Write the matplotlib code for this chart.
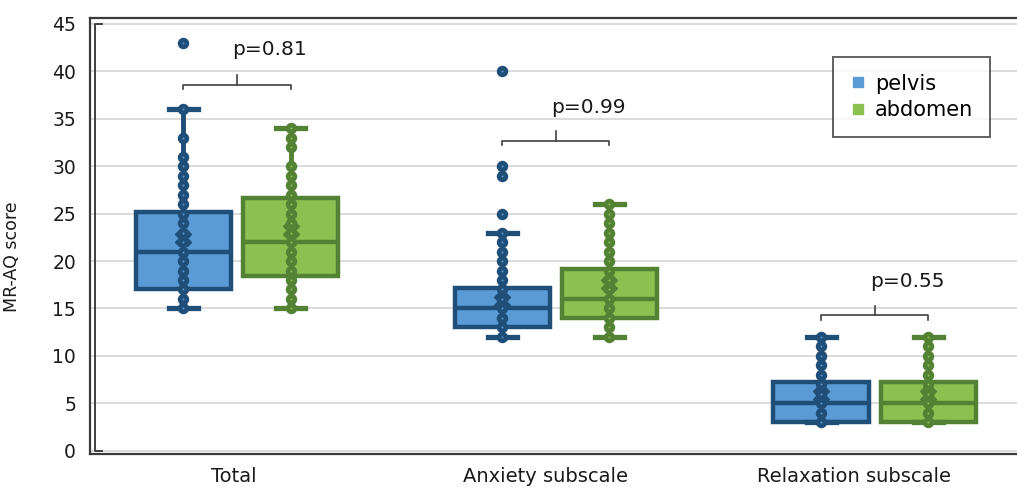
import matplotlib
matplotlib.use("Agg")
import matplotlib.pyplot as plt
import matplotlib.transforms as mtransforms
from matplotlib.lines import Line2D

# categorias
grupos = ["Total", "Anxiety subscale", "Relaxation subscale"]
series = ["pelvis", "abdomen"]

# pontos individuais (valores distintos) por grupo
pelvis_pts = [
    [15, 16, 17, 18, 19, 20, 21, 22, 23, 24, 25, 26, 27, 28, 29, 30, 31, 33, 36, 43],
    [12, 13, 14, 15, 16, 17, 18, 19, 20, 21, 22, 23, 25, 29, 30, 40],
    [3, 4, 5, 6, 7, 8, 9, 10, 11, 12],
]
abdomen_pts = [
    [15, 16, 17, 18, 19, 20, 21, 22, 23, 24, 25, 26, 27, 28, 29, 30, 32, 33, 34],
    [12, 13, 14, 15, 16, 17, 18, 19, 20, 21, 22, 23, 24, 25, 26],
    [3, 4, 5, 6, 7, 8, 9, 10, 11, 12],
]

# estatisticas das caixas
pelvis_q1 = [17.0, 13.0, 3.0]
pelvis_med = [21.0, 15.0, 5.0]
pelvis_q3 = [25.2, 17.2, 7.2]
pelvis_lo = [15, 12, 3]
pelvis_hi = [36, 23, 12]
pelvis_mean = [22.4, 15.8, 5.9]

abdomen_q1 = [18.4, 14.0, 3.0]
abdomen_med = [22.0, 16.0, 5.0]
abdomen_q3 = [26.7, 19.2, 7.2]
abdomen_lo = [15, 12, 3]
abdomen_hi = [34, 26, 12]
abdomen_mean = [23.3, 17.6, 5.9]

# valores p
p_valores = ["p=0.81", "p=0.99", "p=0.55"]
chave_y = [38.6, 32.7, 14.3]
texto_y = [42.3, 36.2, 17.8]

cores = {
    "pelvis": ("#5b9bd5", "#1f4e79"),
    "abdomen": ("#8cc152", "#548235"),
}

fig = plt.figure(figsize=(10.17, 4.92), dpi=100)
ax = fig.add_axes([0.0885, 0.0772, 0.92, 0.8856])

desloc = 0.168
largura = 0.30

dados = {
    "pelvis": (pelvis_pts, pelvis_q1, pelvis_med, pelvis_q3, pelvis_lo, pelvis_hi, pelvis_mean, -desloc),
    "abdomen": (abdomen_pts, abdomen_q1, abdomen_med, abdomen_q3, abdomen_lo, abdomen_hi, abdomen_mean, desloc),
}

for nome in series:

    pts, q1, med, q3, lo, hi, media, d = dados[nome]
    cor, borda = cores[nome]

    stats = []
    for i in range(len(grupos)):
        stats.append(dict(q1=q1[i], med=med[i], q3=q3[i],
                          whislo=lo[i], whishi=hi[i], mean=media[i], fliers=[]))

    pos = [i + d for i in range(len(grupos))]

    ax.bxp(
        stats,
        positions=pos,
        widths=largura,
        capwidths=0.09,
        patch_artist=True,
        showfliers=False,
        showmeans=False,
        boxprops=dict(facecolor=cor, edgecolor=borda, linewidth=3.2),
        medianprops=dict(color=borda, linewidth=3.2),
        whiskerprops=dict(color=borda, linewidth=3.5),
        capprops=dict(color=borda, linewidth=3.8),
        zorder=3
    )

    for i, p in enumerate(pos):
        ax.scatter([p] * len(pts[i]), pts[i], s=68, color=borda, zorder=4, linewidths=0)
        ax.scatter([p] * len(pts[i]), pts[i], s=2, color=cor, zorder=5, linewidths=0)
        ax.plot(p, media[i], marker="X", ms=12, color=borda, zorder=4)

# chaves com valor p
for i in range(len(grupos)):
    x0 = i - desloc
    x1 = i + desloc
    y = chave_y[i]
    ax.plot([x0, x0, x1, x1], [y - 0.5, y, y, y - 0.5], color="#404040", lw=1.2, zorder=2)
    ax.plot([i, i], [y, y + 1.0], color="#404040", lw=1.2, zorder=2)
    ax.text(i - 0.015, texto_y[i], p_valores[i], ha="left", va="center",
            fontsize=14.5, color="#1a1a1a")

ax.set_xlim(-0.461, 2.473)
ax.set_ylim(-0.35, 45.6)

ax.set_yticks(range(0, 46, 5))
ax.yaxis.grid(True, color="#d9d9d9", lw=1.3)
ax.set_axisbelow(True)

# rotulos do eixo x (levemente deslocados como no original)
ajuste = [-0.01, -0.034, -0.066]
ax.set_xticks([i + ajuste[i] for i in range(len(grupos))])
ax.set_xticklabels(grupos, fontsize=14, color="#1a1a1a")
ax.tick_params(axis="x", length=0, pad=9)
ax.tick_params(axis="y", length=0, pad=10, labelsize=13.5, labelcolor="#1a1a1a")

ax.set_ylabel("MR-AQ score", fontsize=12.5, color="#1a1a1a")
ax.yaxis.set_label_coords(-0.0733, 0.453)

for lado in ["left", "top", "bottom"]:
    ax.spines[lado].set_color("#3a3a3a")
    ax.spines[lado].set_linewidth(1.6)
ax.spines["right"].set_visible(False)

# linha interna da moldura
trans = mtransforms.blended_transform_factory(ax.transAxes, ax.transData)
ax.plot([0.0125, 0.0054, 0.0054, 0.0125], [45, 45, 0, 0], transform=trans,
        color="#404040", lw=1.4, clip_on=False, zorder=2)

# legenda
handles = [
    Line2D([], [], marker="s", ls="none", ms=7, mfc=cores[n][0], mec=cores[n][0])
    for n in series
]
leg = ax.legend(
    handles, series,
    loc="upper left",
    bbox_to_anchor=(833 / 1017, 1 - 57 / 492),
    bbox_transform=fig.transFigure,
    borderaxespad=0,
    fontsize=15,
    frameon=True,
    fancybox=False,
    handlelength=0.8,
    handletextpad=0.4,
    borderpad=0.8,
    labelspacing=0.3,
)
leg.get_frame().set_edgecolor("#3a3a3a")
leg.get_frame().set_linewidth(1.4)

fig.savefig("out.png", dpi=100)
plt.close()
